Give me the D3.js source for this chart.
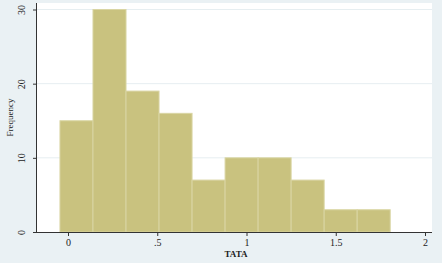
<!DOCTYPE html>
<html>
<head>
<meta charset="utf-8">
<script src="https://cdn.jsdelivr.net/npm/d3@7"></script>
<style>
  body { margin: 0; background: #eaf1f4; }
  svg { display: block; }
</style>
</head>
<body>
<script>
// histogram bins (start of each bin) and counts
var binStart = [-0.045, 0.14, 0.325, 0.51, 0.695, 0.88, 1.065, 1.25, 1.435, 1.62];
var binWidth = 0.185;
var counts = [15, 30, 19, 16, 7, 10, 10, 7, 3, 3];
var xTicks = [0, 0.5, 1, 1.5, 2];
var xTickLabels = ["0", ".5", "1", "1.5", "2"];
var yTicks = [0, 10, 20, 30];

// dimensions
var width = 442;
var height = 263;
var plot = { left: 37, right: 432, top: 3, bottom: 232 };

var svg = d3.select("body")
  .append("svg")
  .attr("width", width)
  .attr("height", height);

svg.append("rect")
  .attr("width", width)
  .attr("height", height)
  .attr("fill", "#eaf1f4");

// plot region
svg.append("rect")
  .attr("x", plot.left)
  .attr("y", plot.top)
  .attr("width", plot.right - plot.left)
  .attr("height", plot.bottom - plot.top)
  .attr("fill", "#ffffff");

var x = d3.scaleLinear().domain([0, 2]).range([68, 425]);
var y = d3.scaleLinear().domain([0, 30]).range([plot.bottom, 9.5]);

// grid lines
svg.selectAll(".grid")
  .data(yTicks.filter(function (d) { return d > 0; }))
  .enter()
  .append("line")
  .attr("x1", plot.left)
  .attr("x2", plot.right)
  .attr("y1", function (d) { return y(d); })
  .attr("y2", function (d) { return y(d); })
  .attr("stroke", "#e6eef1")
  .attr("stroke-width", 1);

// bars
svg.selectAll(".bar")
  .data(counts)
  .enter()
  .append("rect")
  .attr("x", function (d, i) { return x(binStart[i]); })
  .attr("y", function (d) { return y(d); })
  .attr("width", function (d, i) { return x(binStart[i] + binWidth) - x(binStart[i]); })
  .attr("height", function (d) { return plot.bottom - y(d); })
  .attr("fill", "#c9c27f")
  .attr("stroke", "#d9d5a3")
  .attr("stroke-width", 1);

// axes
var font = "'Liberation Serif', 'Times New Roman', serif";

var xAxis = svg.append("g")
  .attr("transform", "translate(0," + plot.bottom + ")")
  .call(d3.axisBottom(x).tickValues(xTicks)
    .tickFormat(function (d, i) { return xTickLabels[i]; })
    .tickSize(4).tickPadding(3));
xAxis.select(".domain")
  .attr("d", "M" + plot.left + ",0.5H" + plot.right)
  .attr("stroke", "#333");

var yAxis = svg.append("g")
  .attr("transform", "translate(" + plot.left + ",0)")
  .call(d3.axisLeft(y).tickValues(yTicks).tickSize(4).tickPadding(3));
yAxis.select(".domain")
  .attr("d", "M-0.5," + plot.top + "V" + plot.bottom)
  .attr("stroke", "#333");

svg.selectAll(".tick line").attr("stroke", "#333");
svg.selectAll(".tick text")
  .attr("font-family", font)
  .attr("font-size", 10)
  .attr("fill", "#222");

// rotate y tick labels
yAxis.selectAll(".tick text")
  .attr("text-anchor", "middle")
  .attr("dy", null)
  .attr("x", null)
  .attr("transform", "translate(-12,0) rotate(-90)");

// axis titles
svg.append("text")
  .attr("x", 236)
  .attr("y", 257)
  .attr("text-anchor", "middle")
  .attr("font-family", font)
  .attr("font-size", 9)
  .attr("font-weight", "bold")
  .attr("fill", "#222")
  .text("TATA");

svg.append("text")
  .attr("transform", "translate(13," + ((plot.top + plot.bottom) / 2) + ") rotate(-90)")
  .attr("text-anchor", "middle")
  .attr("font-family", font)
  .attr("font-size", 9)
  .attr("fill", "#222")
  .text("Frequency");
</script>
</body>
</html>
